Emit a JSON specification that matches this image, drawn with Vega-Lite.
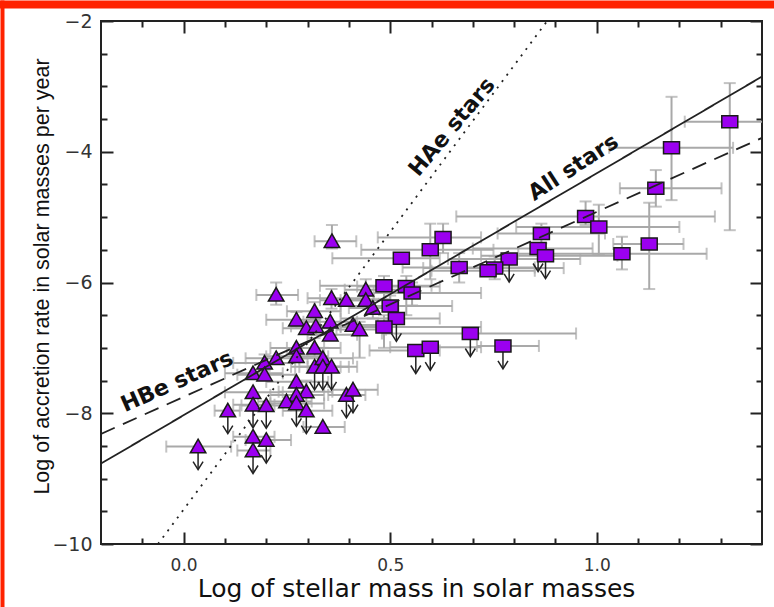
{
  "$schema": "https://vega.github.io/schema/vega-lite/v6.json",
  "width": 661,
  "height": 523,
  "autosize": {"type": "none"},
  "padding": {"left": 101, "top": 21, "right": 12, "bottom": 63},
  "background": "white",
  "config": {"view": {"stroke": "#222", "strokeWidth": 2}, "axis": {"grid": false}},
  "datasets": {
    "stars": [
      {"k": "HAe", "x": 0.359, "y": -5.37, "xlo": 0.317, "xhi": 0.418, "ylo": -5.48, "yhi": -5.12},
      {"k": "HAe", "x": 0.224, "y": -6.19, "xlo": 0.176, "xhi": 0.277, "ylo": -6.34, "yhi": -6.0},
      {"k": "HAe", "x": 0.358, "y": -6.24, "xlo": 0.30, "xhi": 0.43, "ylo": -6.4, "yhi": -6.1},
      {"k": "HAe", "x": 0.394, "y": -6.27, "xlo": 0.33, "xhi": 0.46},
      {"k": "HAe", "x": 0.441, "y": -6.11, "xlo": 0.39, "xhi": 0.55, "ylo": -6.3, "yhi": -5.95},
      {"k": "HAe", "x": 0.441, "y": -6.27, "xlo": 0.38, "xhi": 0.50},
      {"k": "HAe", "x": 0.458, "y": -6.39, "xlo": 0.40, "xhi": 0.52, "ylo": -6.55, "yhi": -6.25},
      {"k": "HAe", "x": 0.317, "y": -6.44, "xlo": 0.25, "xhi": 0.38, "ylo": -6.6, "yhi": -6.3},
      {"k": "HAe", "x": 0.273, "y": -6.57, "xlo": 0.20, "xhi": 0.33, "ylo": -6.7, "yhi": -6.45},
      {"k": "HAe", "x": 0.297, "y": -6.70, "xlo": 0.24, "xhi": 0.36},
      {"k": "HAe", "x": 0.320, "y": -6.67, "xlo": 0.26, "xhi": 0.38, "ylo": -6.8, "yhi": -6.55},
      {"k": "HAe", "x": 0.355, "y": -6.60, "xlo": 0.29, "xhi": 0.42},
      {"k": "HAe", "x": 0.410, "y": -6.65, "xlo": 0.35, "xhi": 0.47},
      {"k": "HAe", "x": 0.426, "y": -6.72, "xlo": 0.37, "xhi": 0.49, "ylo": -7.15, "yhi": -6.6},
      {"k": "HAe", "x": 0.355, "y": -6.80, "xlo": 0.30, "xhi": 0.42},
      {"k": "HAe", "x": 0.317, "y": -7.00, "xlo": 0.25, "xhi": 0.38, "ylo": -7.15, "yhi": -6.85},
      {"k": "HAe", "x": 0.273, "y": -7.00, "xlo": 0.21, "xhi": 0.34},
      {"k": "HAe", "x": 0.273, "y": -7.13, "xlo": 0.20, "xhi": 0.35},
      {"k": "HAe", "x": 0.224, "y": -7.16, "xlo": 0.15, "xhi": 0.30},
      {"k": "HAe", "x": 0.196, "y": -7.23, "xlo": 0.12, "xhi": 0.27, "ylo": -7.35, "yhi": -7.1},
      {"k": "HAe", "x": 0.168, "y": -7.39, "xlo": 0.10, "xhi": 0.24},
      {"k": "HAe", "x": 0.196, "y": -7.41, "xlo": 0.13, "xhi": 0.27},
      {"k": "HAe", "x": 0.317, "y": -7.29, "xlo": 0.26, "xhi": 0.38, "ul": true},
      {"k": "HAe", "x": 0.337, "y": -7.16, "xlo": 0.28, "xhi": 0.41, "ylo": -7.3, "yhi": -7.0},
      {"k": "HAe", "x": 0.337, "y": -7.29, "xlo": 0.28, "xhi": 0.40, "ul": true},
      {"k": "HAe", "x": 0.358, "y": -7.29, "xlo": 0.30, "xhi": 0.42, "ul": true},
      {"k": "HAe", "x": 0.168, "y": -7.68, "xlo": 0.10, "xhi": 0.24},
      {"k": "HAe", "x": 0.273, "y": -7.52, "xlo": 0.20, "xhi": 0.35},
      {"k": "HAe", "x": 0.297, "y": -7.67, "xlo": 0.23, "xhi": 0.36, "ylo": -7.85, "yhi": -7.5},
      {"k": "HAe", "x": 0.273, "y": -7.72, "xlo": 0.21, "xhi": 0.34},
      {"k": "HAe", "x": 0.168, "y": -7.87, "xlo": 0.12, "xhi": 0.22, "ul": true},
      {"k": "HAe", "x": 0.200, "y": -7.88, "xlo": 0.14, "xhi": 0.26, "ul": true},
      {"k": "HAe", "x": 0.249, "y": -7.82, "xlo": 0.18, "xhi": 0.31},
      {"k": "HAe", "x": 0.273, "y": -7.85, "xlo": 0.21, "xhi": 0.34, "ul": true},
      {"k": "HAe", "x": 0.297, "y": -7.96, "xlo": 0.24, "xhi": 0.36, "ul": true},
      {"k": "HAe", "x": 0.394, "y": -7.72, "xlo": 0.35, "xhi": 0.44, "ul": true},
      {"k": "HAe", "x": 0.410, "y": -7.64, "xlo": 0.36, "xhi": 0.47, "ul": true},
      {"k": "HAe", "x": 0.107, "y": -7.96, "xlo": 0.075, "xhi": 0.136, "ul": true},
      {"k": "HAe", "x": 0.337, "y": -8.21, "xlo": 0.29, "xhi": 0.39},
      {"k": "HAe", "x": 0.168, "y": -8.36, "xlo": 0.12, "xhi": 0.22},
      {"k": "HAe", "x": 0.200, "y": -8.41, "xlo": 0.15, "xhi": 0.26, "ul": true},
      {"k": "HAe", "x": 0.168, "y": -8.57, "xlo": 0.13, "xhi": 0.21, "ul": true},
      {"k": "HAe", "x": 0.035, "y": -8.51, "xlo": -0.042, "xhi": 0.115, "ul": true},
      {"k": "HBe", "x": 0.628, "y": -5.31, "xlo": 0.47, "xhi": 0.72, "ylo": -5.55, "yhi": -5.1},
      {"k": "HBe", "x": 0.597, "y": -5.50, "xlo": 0.43, "xhi": 0.75, "ylo": -5.95, "yhi": -5.1},
      {"k": "HBe", "x": 0.527, "y": -5.63, "xlo": 0.36, "xhi": 0.62},
      {"k": "HBe", "x": 0.866, "y": -5.25, "xlo": 0.76, "xhi": 1.02, "ylo": -5.4, "yhi": -5.1},
      {"k": "HBe", "x": 0.858, "y": -5.48, "xlo": 0.70, "xhi": 0.99, "ul": true},
      {"k": "HBe", "x": 0.876, "y": -5.59, "xlo": 0.72, "xhi": 1.05, "ul": true},
      {"k": "HBe", "x": 0.788, "y": -5.64, "xlo": 0.64, "xhi": 0.96, "ul": true},
      {"k": "HBe", "x": 0.753, "y": -5.78, "xlo": 0.58, "xhi": 0.92, "ylo": -5.95, "yhi": -5.6},
      {"k": "HBe", "x": 0.737, "y": -5.82, "xlo": 0.60, "xhi": 0.85},
      {"k": "HBe", "x": 0.667, "y": -5.77, "xlo": 0.53, "xhi": 0.85, "ylo": -6.0, "yhi": -5.55},
      {"k": "HBe", "x": 0.485, "y": -6.05, "xlo": 0.33, "xhi": 0.60, "ylo": -6.25, "yhi": -5.9},
      {"k": "HBe", "x": 0.539, "y": -6.06, "xlo": 0.42, "xhi": 0.62, "ylo": -6.5, "yhi": -5.9},
      {"k": "HBe", "x": 0.553, "y": -6.16, "xlo": 0.46, "xhi": 0.72, "ylo": -6.35, "yhi": -6.0},
      {"k": "HBe", "x": 0.500, "y": -6.36, "xlo": 0.38, "xhi": 0.65, "ylo": -6.55, "yhi": -6.2},
      {"k": "HBe", "x": 0.515, "y": -6.55, "xlo": 0.38, "xhi": 0.62, "ul": true},
      {"k": "HBe", "x": 0.485, "y": -6.68, "xlo": 0.38, "xhi": 0.72, "ylo": -7.0, "yhi": -6.5},
      {"k": "HBe", "x": 0.694, "y": -6.78, "xlo": 0.48, "xhi": 0.95, "ul": true},
      {"k": "HBe", "x": 0.562, "y": -7.04, "xlo": 0.45, "xhi": 0.62, "ul": true},
      {"k": "HBe", "x": 0.597, "y": -6.99, "xlo": 0.50, "xhi": 0.72, "ul": true},
      {"k": "HBe", "x": 0.773, "y": -6.97, "xlo": 0.71, "xhi": 0.86, "ul": true},
      {"k": "HBe", "x": 1.322, "y": -3.54, "xlo": 1.213, "xhi": 1.55, "ylo": -5.2, "yhi": -2.95},
      {"k": "HBe", "x": 1.181, "y": -3.94, "xlo": 1.03, "xhi": 1.33, "ylo": -4.74, "yhi": -3.16},
      {"k": "HBe", "x": 1.143, "y": -4.56, "xlo": 1.056, "xhi": 1.302, "ylo": -4.84, "yhi": -4.28},
      {"k": "HBe", "x": 0.973, "y": -4.99, "xlo": 0.66, "xhi": 1.286, "ylo": -5.12, "yhi": -4.76},
      {"k": "HBe", "x": 1.005, "y": -5.15, "xlo": 0.805, "xhi": 1.2, "ylo": -5.58, "yhi": -4.81},
      {"k": "HBe", "x": 1.127, "y": -5.41, "xlo": 1.04, "xhi": 1.21, "ylo": -6.1, "yhi": -4.78},
      {"k": "HBe", "x": 1.061, "y": -5.56, "xlo": 0.81, "xhi": 1.266, "ylo": -5.8, "yhi": -5.3}
    ],
    "fits": [
      {"fit": "All", "x": -0.2, "y": -8.77},
      {"fit": "All", "x": 1.4, "y": -2.85},
      {"fit": "HBe", "x": -0.2, "y": -8.316},
      {"fit": "HBe", "x": 1.4, "y": -3.788},
      {"fit": "HAe", "x": -0.062, "y": -10},
      {"fit": "HAe", "x": 0.88, "y": -2}
    ]
  },
  "resolve": {"axis": {"x": "independent", "y": "independent"}},
  "layer": [
    {
      "data": {"name": "stars"},
      "mark": {"type": "rule", "color": "#a9a9a9", "strokeWidth": 2, "clip": true},
      "encoding": {
        "x": {
          "field": "xlo", "type": "quantitative",
          "scale": {"domain": [-0.2, 1.4], "nice": false, "zero": false},
          "axis": {
            "orient": "bottom", "values": [0, 0.5, 1],
            "domain": false, "grid": false, "labelFlush": false, "labelOverlap": false,
            "format": ".1f",
            "tickSize": -12, "tickColor": "#222", "tickWidth": 2,
            "labelFont": "DejaVu Sans", "labelFontSize": 17, "labelColor": "#333", "labelPadding": 25,
            "title": "Log of stellar mass in solar masses",
            "titleFont": "DejaVu Sans", "titleFontSize": 25, "titleFontWeight": "normal", "titleColor": "#111",
            "titleX": 315, "titleY": 52, "titleBaseline": "alphabetic", "titleAlign": "center"
          }
        },
        "x2": {"field": "xhi"},
        "y": {
          "field": "y", "type": "quantitative",
          "scale": {"domain": [-10, -2], "nice": false, "zero": false},
          "axis": {
            "orient": "left", "values": [-10, -8, -6, -4, -2],
            "domain": false, "grid": false, "labelFlush": false, "labelOverlap": false,
            "format": "d",
            "tickSize": -12, "tickColor": "#222", "tickWidth": 2,
            "labelFont": "DejaVu Sans", "labelFontSize": 19, "labelColor": "#333", "labelPadding": 21,
            "title": "Log of accretion rate in solar masses per year",
            "titleFont": "Liberation Sans", "titleFontSize": 21.5, "titleFontWeight": "normal", "titleColor": "#111",
            "titleX": -53, "titleY": 255, "titleBaseline": "alphabetic", "titleAlign": "center", "titleAngle": 270
          }
        }
      }
    },
    {
      "data": {"name": "stars"},
      "transform": [{"filter": "isValid(datum.ylo)"}],
      "mark": {"type": "rule", "color": "#a9a9a9", "strokeWidth": 2, "clip": true},
      "encoding": {
        "x": {
          "field": "x", "type": "quantitative",
          "axis": {"orient": "top", "values": [0, 0.5, 1], "domain": false, "labels": false, "title": null,
            "tickSize": -12, "tickColor": "#222", "tickWidth": 2}
        },
        "y": {
          "field": "ylo", "type": "quantitative",
          "axis": {"orient": "right", "values": [-10, -8, -6, -4, -2], "domain": false, "labels": false, "title": null,
            "tickSize": -12, "tickColor": "#222", "tickWidth": 2}
        },
        "y2": {"field": "yhi"}
      }
    },
    {
      "data": {"name": "stars"},
      "transform": [{"fold": ["xlo", "xhi"], "as": ["end", "xv"]}],
      "mark": {"type": "tick", "orient": "vertical", "color": "#a9a9a9", "thickness": 2, "size": 12, "clip": true},
      "encoding": {
        "x": {
          "field": "xv", "type": "quantitative",
          "axis": {"orient": "top", "offset": 21, "values": [-0.2], "domain": false, "labels": false, "title": null,
            "tickSize": -620, "tickOffset": -99, "tickWidth": 4, "tickColor": "#ff2200"}
        },
        "y": {
          "field": "y", "type": "quantitative",
          "axis": {"orient": "right", "offset": 12, "values": [-2], "domain": false, "labels": false, "title": null,
            "tickSize": -780, "tickOffset": -17, "tickWidth": 8, "tickColor": "#ff2200"}
        }
      }
    },
    {
      "data": {"name": "stars"},
      "transform": [{"fold": ["ylo", "yhi"], "as": ["end", "yv"]}, {"filter": "isValid(datum.yv)"}],
      "mark": {"type": "tick", "orient": "horizontal", "color": "#a9a9a9", "thickness": 2, "size": 12, "clip": true},
      "encoding": {
        "x": {
          "field": "x", "type": "quantitative",
          "axis": {"orient": "bottom", "values": [-0.1, 0.1, 0.2, 0.3, 0.4, 0.6, 0.7, 0.8, 0.9, 1.1, 1.2, 1.3],
            "domain": false, "labels": false, "title": null, "tickSize": -6, "tickColor": "#222", "tickWidth": 2}
        },
        "y": {
          "field": "yv", "type": "quantitative",
          "axis": {"orient": "left", "values": [-9.5, -9, -8.5, -7.5, -7, -6.5, -5.5, -5, -4.5, -3.5, -3, -2.5],
            "domain": false, "labels": false, "title": null, "tickSize": -6, "tickColor": "#222", "tickWidth": 2}
        }
      }
    },
    {
      "data": {"name": "stars"},
      "transform": [{"filter": "datum.ul === true"}],
      "mark": {"type": "rule", "color": "#222", "strokeWidth": 1.5, "y2Offset": 22},
      "encoding": {
        "x": {
          "field": "x", "type": "quantitative",
          "axis": {"orient": "top", "values": [-0.1, 0.1, 0.2, 0.3, 0.4, 0.6, 0.7, 0.8, 0.9, 1.1, 1.2, 1.3],
            "domain": false, "labels": false, "title": null, "tickSize": -6, "tickColor": "#222", "tickWidth": 2}
        },
        "y": {
          "field": "y", "type": "quantitative",
          "axis": {"orient": "right", "values": [-9.5, -9, -8.5, -7.5, -7, -6.5, -5.5, -5, -4.5, -3.5, -3, -2.5],
            "domain": false, "labels": false, "title": null, "tickSize": -6, "tickColor": "#222", "tickWidth": 2}
        },
        "y2": {"field": "y"}
      }
    },
    {
      "data": {"name": "stars"},
      "transform": [{"filter": "datum.ul === true"}],
      "mark": {"type": "point", "shape": "M-1,-1.6L0,0L1,-1.6", "filled": false, "stroke": "#222", "strokeWidth": 1.5, "size": 100, "yOffset": 23, "opacity": 1},
      "encoding": {
        "x": {"field": "x", "type": "quantitative", "axis": null},
        "y": {"field": "y", "type": "quantitative", "axis": null}
      }
    },
    {
      "data": {"name": "stars"},
      "mark": {"type": "point", "filled": true, "fill": "#9b00f0", "stroke": "#1a1a1a", "strokeWidth": 1.5, "opacity": 1},
      "encoding": {
        "x": {"field": "x", "type": "quantitative", "axis": null},
        "y": {"field": "y", "type": "quantitative", "axis": null},
        "shape": {"field": "k", "type": "nominal", "legend": null,
          "scale": {"domain": ["HAe", "HBe"], "range": ["M0,-0.95L1,0.8L-1,0.8Z", "M-1,-0.75L1,-0.75L1,0.75L-1,0.75Z"]}},
        "size": {"field": "k", "type": "nominal", "legend": null,
          "scale": {"domain": ["HAe", "HBe"], "range": [240, 256]}}
      }
    },
    {
      "data": {"name": "fits"},
      "mark": {"type": "line", "color": "#222", "strokeWidth": 1.8, "clip": true},
      "encoding": {
        "x": {"field": "x", "type": "quantitative", "axis": null},
        "y": {"field": "y", "type": "quantitative", "axis": null},
        "detail": {"field": "fit"},
        "strokeDash": {"field": "fit", "type": "nominal", "legend": null,
          "scale": {"domain": ["All", "HBe", "HAe"], "range": [[1, 0], [15, 9], [2, 6]]}}
      }
    },
    {
      "data": {"values": [{"label": "HBe stars"}]},
      "mark": {"type": "text", "angle": 336, "font": "DejaVu Sans", "fontWeight": "bold", "fontSize": 22, "color": "#111", "align": "center", "baseline": "middle"},
      "encoding": {
        "text": {"field": "label"},
        "x": {"datum": -0.016, "type": "quantitative", "axis": null},
        "y": {"datum": -7.515, "type": "quantitative", "axis": null}
      }
    },
    {
      "data": {"values": [{"label": "All stars"}]},
      "mark": {"type": "text", "angle": 327, "font": "DejaVu Sans", "fontWeight": "bold", "fontSize": 22, "color": "#111", "align": "center", "baseline": "middle"},
      "encoding": {
        "text": {"field": "label"},
        "x": {"datum": 0.943, "type": "quantitative", "axis": null},
        "y": {"datum": -4.24, "type": "quantitative", "axis": null}
      }
    },
    {
      "data": {"values": [{"label": "HAe stars"}]},
      "mark": {"type": "text", "angle": 310, "font": "DejaVu Sans", "fontWeight": "bold", "fontSize": 22, "color": "#111", "align": "center", "baseline": "middle"},
      "encoding": {
        "text": {"field": "label"},
        "x": {"datum": 0.649, "type": "quantitative", "axis": null},
        "y": {"datum": -3.62, "type": "quantitative", "axis": null}
      }
    }
  ]
}
